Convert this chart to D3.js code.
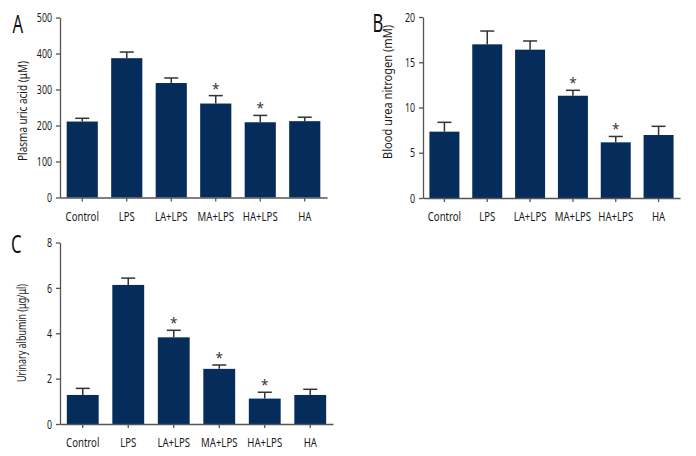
<!DOCTYPE html>
<html><head><meta charset="utf-8">
<script src="https://cdn.jsdelivr.net/npm/d3@7/dist/d3.min.js"></script>
<style>
body{margin:0;background:#fff;}
text{font-family:"Noto Sans",sans-serif;}
</style></head>
<body><svg id="c" width="696" height="456"></svg>
<script>
const categories = ["Control","LPS","LA+LPS","MA+LPS","HA+LPS","HA"];
const uricMean = [211, 387, 318, 261, 209, 212];
const uricErr  = [9, 17, 14, 22, 19, 11];
const uricSig  = [0, 0, 0, 1, 1, 0];
const uricTicks = [0, 100, 200, 300, 400, 500];
const bunMean = [7.33, 16.98, 16.39, 11.3, 6.15, 6.96];
const bunErr  = [1.03, 1.47, 0.96, 0.6, 0.65, 0.96];
const bunSig  = [0, 0, 0, 1, 1, 0];
const bunTicks = [0, 5, 10, 15, 20];
const albMean = [1.28, 6.13, 3.82, 2.43, 1.12, 1.28];
const albErr  = [0.29, 0.3, 0.31, 0.17, 0.28, 0.25];
const albSig  = [0, 0, 1, 1, 1, 0];
const albTicks = [0, 2, 4, 6, 8];

const svg = d3.select("#c");
const BAR = "#062c5c", AX = "#555", TXT = "#1a1a1a";
const SX = 0.75; // horizontal condensing of text (condensed face look)

function condense(sel, s){
  sel.each(function(){
    const t = d3.select(this);
    const x = +(t.attr("x") || 0);
    t.attr("x", x / s).attr("transform", `scale(${s},1)`);
  });
}

function panel(opt){
  const g = svg.append("g");
  const x = d3.scaleBand().domain(categories).range([opt.x0, opt.x1]).paddingInner(0.3).paddingOuter(0.15);
  const y = d3.scaleLinear().domain([0, opt.max]).range([opt.y0, opt.y1]);
  g.selectAll("rect.bar").data(categories).join("rect")
    .attr("x", d => x(d)).attr("width", x.bandwidth())
    .attr("y", (d,i) => y(opt.mean[i])).attr("height", (d,i) => y(0) - y(opt.mean[i]))
    .attr("fill", BAR);
  categories.forEach((d,i) => {
    const cx = x(d) + x.bandwidth()/2;
    const top = y(opt.mean[i] + opt.err[i]);
    g.append("line").attr("x1", cx).attr("x2", cx).attr("y1", y(opt.mean[i])).attr("y2", top)
      .attr("stroke", "#333").attr("stroke-width", 1.5);
    g.append("line").attr("x1", cx-7).attr("x2", cx+7).attr("y1", top).attr("y2", top)
      .attr("stroke", "#333").attr("stroke-width", 1.5);
    if (opt.sig[i]) {
      g.append("text").attr("x", cx).attr("y", top - 2).attr("text-anchor","middle")
        .attr("font-size", 13.5).attr("fill", "#333").text("*");
    }
  });
  const ya = g.append("g").attr("transform", `translate(${opt.x0},0)`)
    .call(d3.axisLeft(y).tickValues(opt.ticks).tickSize(4).tickPadding(4).tickSizeOuter(0));
  ya.select(".domain").attr("stroke", AX).attr("stroke-width", 1.3);
  ya.selectAll(".tick line").attr("stroke", AX).attr("stroke-width", 1.3);
  ya.selectAll(".tick text").attr("font-size", 13).attr("fill", TXT).attr("font-family", null);
  condense(ya.selectAll(".tick text"), 0.68);
  const xa = g.append("g").attr("transform", `translate(0,${opt.y0})`)
    .call(d3.axisBottom(x).tickSize(4).tickPadding(10).tickSizeOuter(0));
  xa.select(".domain").attr("stroke", AX).attr("stroke-width", 1.3);
  xa.selectAll(".tick line").attr("stroke", AX).attr("stroke-width", 1.3);
  xa.selectAll(".tick text").attr("font-size", 12.8).attr("fill", TXT).attr("font-family", null);
  condense(xa.selectAll(".tick text"), SX);
  g.append("text").attr("transform", `translate(${opt.tx},${opt.tc}) rotate(-90)`)
    .attr("text-anchor","middle").attr("font-size", 13).attr("fill", TXT)
    .attr("textLength", opt.tl).attr("lengthAdjust", "spacingAndGlyphs").text(opt.title);
  g.append("text").attr("transform", `translate(${opt.lx},${opt.ly}) scale(0.68,1)`)
    .attr("font-size", 24.5).attr("fill", "#111").text(opt.letter);
}

panel({x0:60, x1:327, y0:197.5, y1:17.5, max:500, mean:uricMean, err:uricErr, sig:uricSig, ticks:uricTicks,
  title:"Plasma uric acid (μM)", tx:27, tc:111, tl:100, letter:"A", lx:12.5, ly:33});
panel({x0:423, x1:680, y0:198, y1:17, max:20, mean:bunMean, err:bunErr, sig:bunSig, ticks:bunTicks,
  title:"Blood urea nitrogen (mM)", tx:392, tc:92, tl:134, letter:"B", lx:372.5, ly:32});
panel({x0:60, x1:333, y0:424, y1:242.5, max:8, mean:albMean, err:albErr, sig:albSig, ticks:albTicks,
  title:"Urinary albumin (μg/μl)", tx:26, tc:333, tl:98, letter:"C", lx:11, ly:253});
</script></body></html>
